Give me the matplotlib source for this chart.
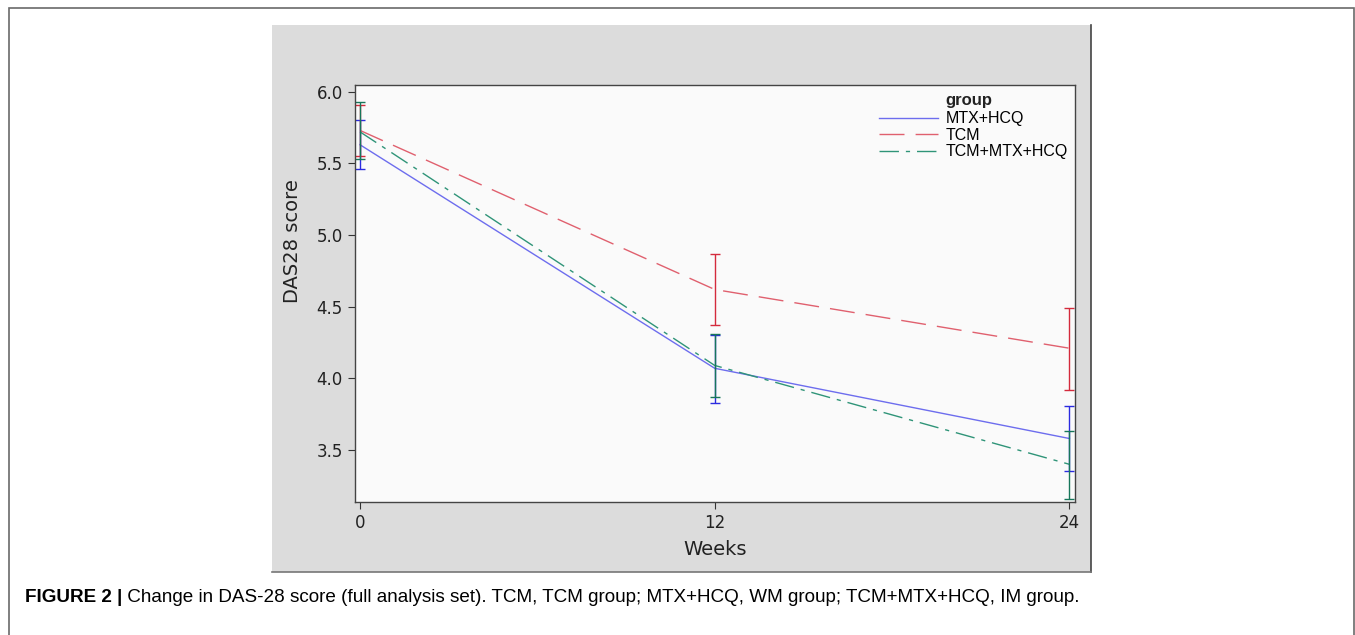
import numpy as np
import matplotlib.pyplot as plt
from matplotlib.patches import Rectangle
from matplotlib.lines import Line2D

weeks = [0, 12, 24]
groups = ["MTX+HCQ", "TCM", "TCM+MTX+HCQ"]

# mean and CI bounds
mtx_mean = [5.63, 4.07, 3.58]
mtx_low = [5.46, 3.83, 3.35]
mtx_high = [5.80, 4.30, 3.81]

tcm_mean = [5.73, 4.62, 4.21]
tcm_low = [5.55, 4.37, 3.92]
tcm_high = [5.91, 4.87, 4.49]

comb_mean = [5.72, 4.09, 3.40]
comb_low = [5.53, 3.87, 3.16]
comb_high = [5.93, 4.31, 3.63]

line_cols = ["#6d6dee", "#e0606e", "#2f9478"]
bar_cols = ["#2b2be0", "#d42a3c", "#17765a"]
styles = ["-", (0, (18, 8)), (0, (14, 5, 3, 5))]

W, H = 1355, 635
fig = plt.figure(figsize=(W / 100, H / 100), dpi=100)

# outer frame and grey panel
fig.add_artist(Rectangle((9 / W, -0.01), (1354 - 9) / W, 1 - 8 / H + 0.01,
                         transform=fig.transFigure, fill=False,
                         edgecolor="#6a6a6a", lw=1.2, zorder=-10))
fig.add_artist(Rectangle((272 / W, 1 - 572 / H), (1091 - 272) / W, (572 - 25) / H,
                         transform=fig.transFigure, facecolor="#dcdcdc",
                         edgecolor="none", zorder=-10))
fig.add_artist(Line2D([1091 / W, 1091 / W], [1 - 572 / H, 1 - 25 / H],
                      transform=fig.transFigure, color="#444444", lw=1.2, zorder=-9))
fig.add_artist(Line2D([272 / W, 1091 / W], [1 - 572 / H, 1 - 572 / H],
                      transform=fig.transFigure, color="#777777", lw=1.2, zorder=-9))

ax = fig.add_axes([354.7 / W, 1 - 501.7 / H, (1075.3 - 354.7) / W, (501.7 - 85) / H])
ax.set_facecolor("#fafafa")

data = [(mtx_mean, mtx_low, mtx_high), (tcm_mean, tcm_low, tcm_high),
        (comb_mean, comb_low, comb_high)]
for i, (m, lo, hi) in enumerate(data):
    m = np.array(m)
    err = [m - np.array(lo), np.array(hi) - m]
    ax.plot(weeks, m, color=line_cols[i], ls=styles[i], lw=1.0, label=groups[i])
    ax.errorbar(weeks, m, yerr=err, fmt="none", ecolor=bar_cols[i],
                elinewidth=1.0, capsize=3.8, capthick=1.0)

ax.set_xlim(-0.18, 24.2)
ax.set_ylim(3.139, 6.047)
ax.set_xticks(weeks)
ax.set_yticks([3.5, 4.0, 4.5, 5.0, 5.5, 6.0])
ax.set_yticklabels(["3.5", "4.0", "4.5", "5.0", "5.5", "6.0"])
ax.tick_params(labelsize=12, length=5, width=0.8, color="#333333", labelcolor="#222222")
for s in ax.spines.values():
    s.set_color("#444444")
    s.set_linewidth(1.0)
ax.set_xlabel("Weeks", fontsize=14, color="#222222")
ax.xaxis.set_label_coords(0.5, -0.092)
ax.set_ylabel("DAS28 score", fontsize=14, color="#222222")
ax.yaxis.set_label_coords(-0.073, 0.626)

leg = ax.legend(loc="upper left", bbox_to_anchor=(0.728, 0.937), frameon=False,
                handlelength=3.7, handletextpad=0.45,
                labelspacing=0.1, borderpad=0, borderaxespad=0,
                prop={"family": "Liberation Sans", "size": 11.5})
ax.text(0.82, 0.962, "group", transform=ax.transAxes, fontsize=12,
        fontweight="bold", family="Liberation Sans", va="center", ha="left",
        color="#222222")

t1 = fig.text(25 / W, 1 - 597 / H, "FIGURE 2 |", fontsize=13.6, fontweight="bold",
              family="Liberation Sans", va="center", ha="left")
ax.annotate(" Change in DAS-28 score (full analysis set). TCM, TCM group; MTX+HCQ, "
            "WM group; TCM+MTX+HCQ, IM group.", xy=(1, 0), xycoords=t1,
            va="bottom", ha="left", fontsize=13.6, family="Liberation Sans",
            annotation_clip=False)

fig.savefig("out.png", dpi=100)
